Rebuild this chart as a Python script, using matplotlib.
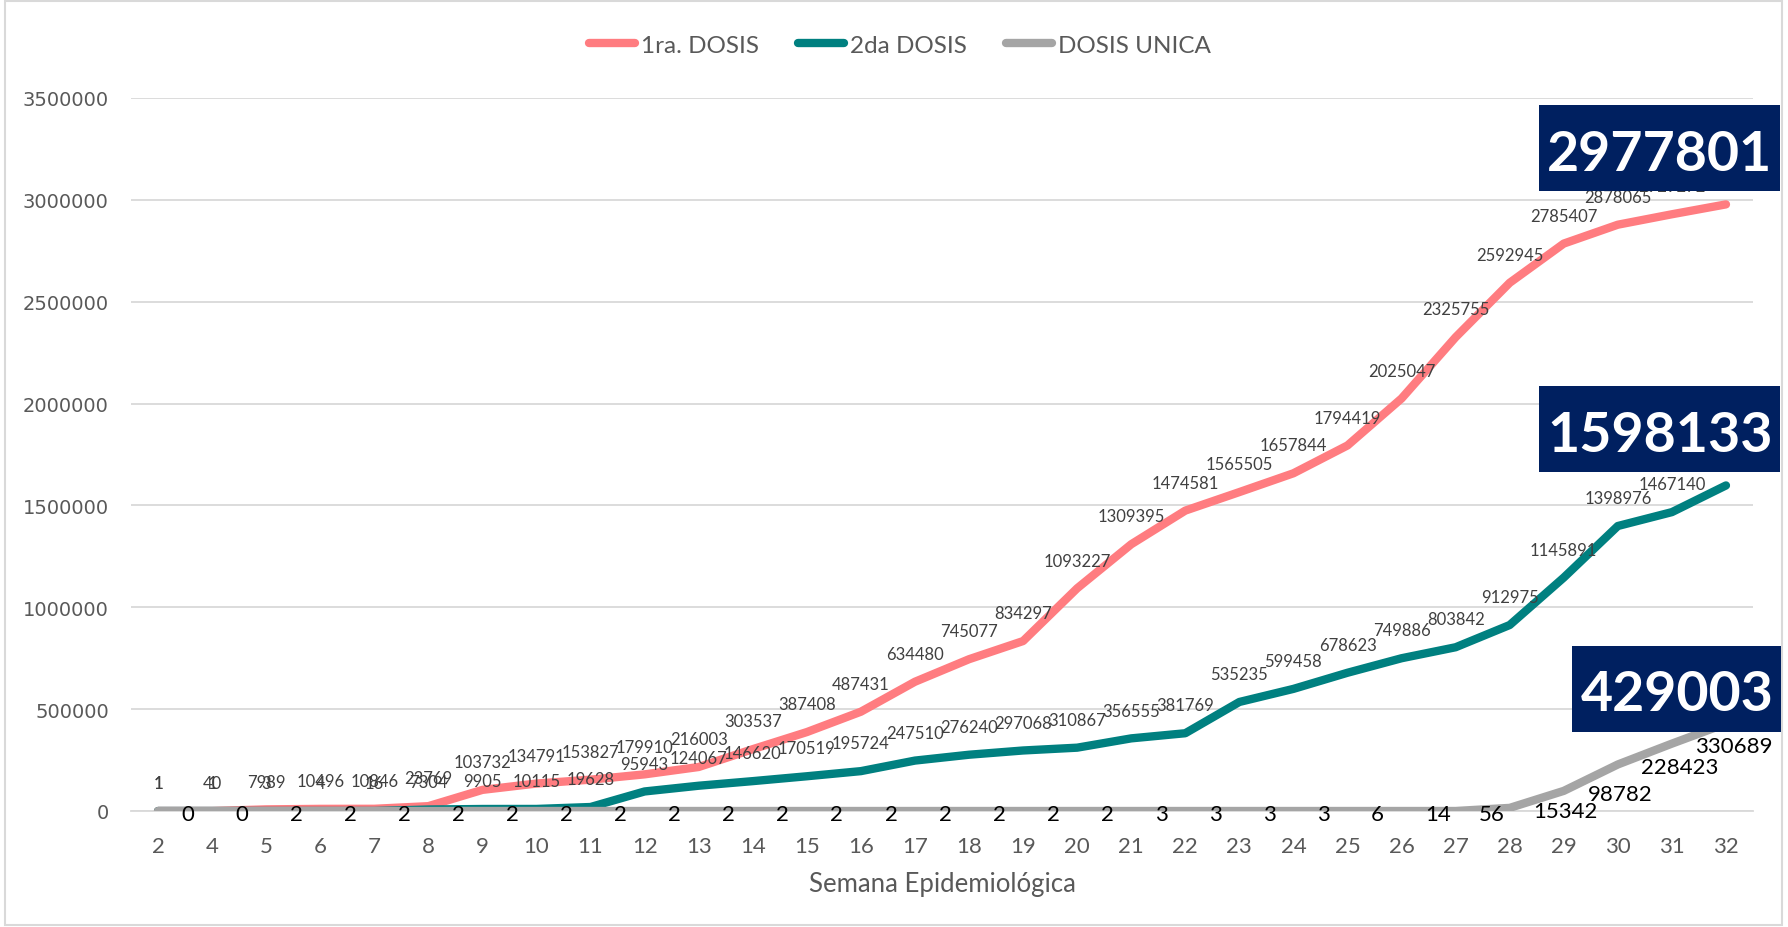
import matplotlib
matplotlib.use('Agg')
import matplotlib.pyplot as plt
from matplotlib.patches import Rectangle
from matplotlib.ticker import FuncFormatter

# datos de la grafica
semanas = ['2', '4', '5', '6', '7', '8', '9', '10', '11', '12', '13', '14', '15', '16', '17',
           '18', '19', '20', '21', '22', '23', '24', '25', '26', '27', '28', '29', '30', '31', '32']

primera = [1, 40, 7989, 10496, 10846, 23769, 103732, 134791, 153827, 179910, 216003, 303537,
           387408, 487431, 634480, 745077, 834297, 1093227, 1309395, 1474581, 1565505, 1657844,
           1794419, 2025047, 2325755, 2592945, 2785407, 2878065, 2929272, 2977801]

segunda = [1, 1, 3, 4, 16, 7304, 9905, 10115, 19628, 95943, 124067, 146620, 170519, 195724,
           247510, 276240, 297068, 310867, 356555, 381769, 535235, 599458, 678623, 749886,
           803842, 912975, 1145891, 1398976, 1467140, 1598133]

unica = [0, 0, 2, 2, 2, 2, 2, 2, 2, 2, 2, 2, 2, 2, 2, 2, 2, 2, 3, 3, 3, 3, 6, 14, 56,
         15342, 98782, 228423, 330689, 429003]

yticks = [0, 500000, 1000000, 1500000, 2000000, 2500000, 3000000, 3500000]

plt.rcParams['font.family'] = ['Lato', 'DejaVu Sans']

W, H = 1788, 928
fig = plt.figure(figsize=(W / 100, H / 100), dpi=100)
ax = fig.add_axes([131 / W, 1 - 812 / H, (1753 - 131) / W, (812 - 99) / H])

x = list(range(len(semanas)))
estilo = dict(lw=6, solid_capstyle='round', solid_joinstyle='round')
ax.plot(x, primera, color='#FF7C80', label='1ra. DOSIS', zorder=3, **estilo)
ax.plot(x, segunda, color='#008080', label='2da DOSIS', zorder=4, **estilo)
ax.plot(x, unica, color='#A5A5A5', label='DOSIS UNICA', zorder=5, **estilo)

ax.set_xlim(-0.5, len(semanas) - 0.5)
ax.set_ylim(yticks[0], yticks[-1])
ax.set_yticks(yticks)
ax.yaxis.set_major_formatter(FuncFormatter(lambda v, p: '%d' % v))
ax.set_xticks(x)
ax.set_xticklabels(semanas)
ax.grid(axis='y', color='#D9D9D9', lw=1.3)
ax.set_axisbelow(True)
for s in ['top', 'right', 'left']:
    ax.spines[s].set_visible(False)
ax.spines['bottom'].set_color('#D9D9D9')
ax.spines['bottom'].set_linewidth(1.3)
ax.tick_params(length=0)
ax.tick_params(axis='x', pad=18, labelsize=16, labelcolor='#595959')
ax.tick_params(axis='y', pad=16, labelcolor='#595959')
for lab in ax.get_yticklabels():
    lab.set_fontfamily('DejaVu Sans')
    lab.set_fontsize(14)

ax.set_xlabel('Semana Epidemiológica', fontsize=18.5, color='#595959')
ax.xaxis.label.set_va('center')
ax.xaxis.set_label_coords(0.5, -0.101)

# etiquetas de datos
for i, v in enumerate(primera[:-1]):
    ax.annotate(str(v), (i, v), xytext=(0, 20), textcoords='offset points',
                ha='center', va='center', fontsize=12, color='#404040', zorder=6)
for i, v in enumerate(segunda[:-1]):
    ax.annotate(str(v), (i, v), xytext=(0, 20), textcoords='offset points',
                ha='center', va='center', fontsize=12, color='#404040', zorder=6)
for i, v in enumerate(unica[:-1]):
    ax.annotate(str(v), (i, v), xytext=(17, -2), textcoords='offset points',
                ha='left', va='center', fontsize=16, color='black', zorder=6)

# totales en recuadro (posicion en pixeles respecto al ultimo punto)
# (izq, der, abajo, arriba, centro_x, base_texto)
cajas = [(primera, (-187, 54, 13, 99, -66, 34)),
         (segunda, (-187, 54, 13, 99, -66, 34)),
         (unica, (-154, 55, -8, 78, -49, 14))]
for serie, (l, r, b, t, cx, by) in cajas:
    px, py = ax.transData.transform((len(serie) - 1, serie[-1]))
    fig.add_artist(Rectangle(((px + l) / W, (py + b) / H), (r - l) / W, (t - b) / H,
                             transform=fig.transFigure, fc='#002060', ec='none', zorder=10))
    fig.text((px + cx) / W, (py + by) / H, str(serie[-1]), ha='center', va='baseline',
             fontsize=40, fontweight='bold', color='white', zorder=11)

fig.legend(loc='center', bbox_to_anchor=(900 / W, 1 - 46 / H), ncol=3, frameon=False,
           fontsize=17.5, handlelength=1.9, handletextpad=0.25, columnspacing=1.6,
           labelcolor='#595959')

fig.patches.append(Rectangle((5 / W, 2 / H), (1782 - 5) / W, (926 - 2) / H,
                             transform=fig.transFigure, fill=False, ec='#D9D9D9', lw=1.5))

fig.savefig('out.png', dpi=100)
